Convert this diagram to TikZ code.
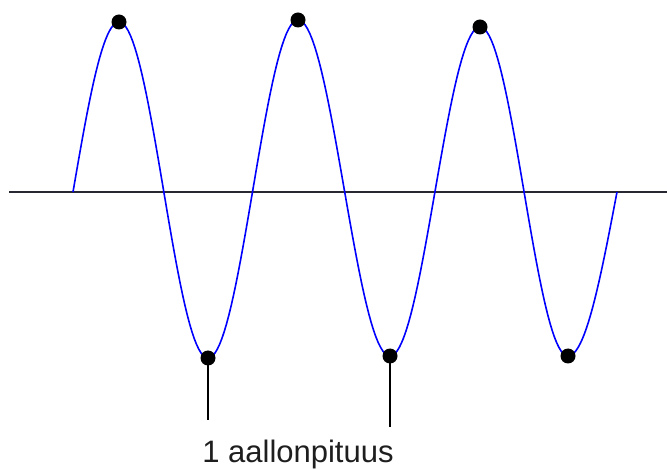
\documentclass[tikz,border=0pt]{standalone}
\usepackage{fontspec}
\setmainfont{Liberation Sans}
\begin{document}
\begin{tikzpicture}[x=1pt,y=-1pt,
  wave/.style={draw={rgb,255:red,0;green,0;blue,255},line width=1.6pt,line join=round},
  axisline/.style={draw={rgb,255:red,40;green,40;blue,50},line width=2pt},
  marker/.style={circle,fill=black,inner sep=0pt,minimum size=15pt},
  tick/.style={draw=black,line width=1.5pt},
  lbl/.style={font=\fontsize{31}{35}\selectfont,text={rgb,255:red,30;green,30;blue,30}}]
\useasboundingbox (0,0) rectangle (667,470);
% axis
\coordinate (axL) at (9,192);
\coordinate (axR) at (667,192);
\draw[axisline] (axL) -- (axR);
% wave
\draw[wave]
  plot[domain=0:1,samples=25] ({73+46*\x},{192-170*sin(90*\x)})
  -- plot[domain=0:1,samples=40] ({119+89*\x},{190-168*cos(180*\x)})
  -- plot[domain=0:1,samples=40] ({208+90*\x},{189+169*cos(180*\x)})
  -- plot[domain=0:1,samples=40] ({298+92*\x},{188-168*cos(180*\x)})
  -- plot[domain=0:1,samples=40] ({390+90*\x},{191.5+164.5*cos(180*\x)})
  -- plot[domain=0:1,samples=40] ({480+88*\x},{191.5-164.5*cos(180*\x)})
  -- plot[domain=0:1,samples=25] ({568+49*\x},{192+164*cos(90*\x)});
% markers
\node[marker] (p1) at (119,22) {};
\node[marker] (t1) at (208,358) {};
\node[marker] (p2) at (298,20) {};
\node[marker] (t2) at (390,356) {};
\node[marker] (p3) at (480,27) {};
\node[marker] (t3) at (568,356) {};
% wavelength ticks
\coordinate (e1) at (208,420);
\coordinate (e2) at (390,427);
\draw[tick] (t1.center) -- (e1);
\draw[tick] (t2.center) -- (e2);
\node[lbl,anchor=base] (lab) at (298,462) {1 aallonpituus};
\end{tikzpicture}
\end{document}
